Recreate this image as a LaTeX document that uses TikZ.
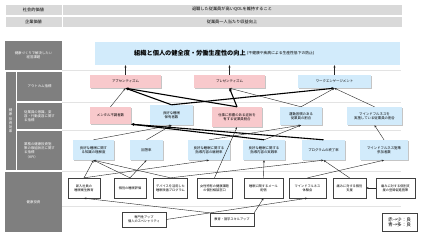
\documentclass[tikz,border=0pt]{standalone}
\usepackage{fontspec}
\setmainfont{Noto Sans CJK JP}
\usetikzlibrary{arrows.meta,shadows}
\definecolor{hdrgray}{HTML}{D9D9D9}
\definecolor{sidegray}{HTML}{7F7F7F}
\definecolor{pinkf}{HTML}{F8C9CC}
\definecolor{bluef}{HTML}{D2EBFB}
\definecolor{sepgray}{HTML}{E3E3E3}
\begin{document}
\begin{tikzpicture}[x=1pt,y=-1pt,
  every node/.style={inner sep=0.5pt,align=center},
  hdr/.style={fill=hdrgray,draw=white,line width=0.6pt,font=\fontsize{4.2}{5}\selectfont},
  side/.style={fill=sidegray,text=white,font=\fontsize{3.4}{4.2}\selectfont},
  shad/.style={drop shadow={shadow xshift=0.9pt,shadow yshift=-0.9pt,fill=black!45}},
  pinkbox/.style={fill=pinkf,shad,font=\fontsize{3.4}{4.2}\selectfont},
  bluebox/.style={fill=bluef,shad,font=\fontsize{3.4}{4.2}\selectfont},
  invbox/.style={fill=white,draw=black!75,line width=0.35pt,shad,font=\fontsize{3.2}{4}\selectfont},
  thin/.style={-{Stealth[length=2.4pt,width=2pt]},line width=0.4pt,black!85},
  thick/.style={-{Stealth[length=3pt,width=2.6pt]},line width=1.1pt,black},
  sep/.style={sepgray,line width=0.6pt}]
\useasboundingbox (0,0) rectangle (431,239);
\fill[white] (0,0) rectangle (431,239);
% header rows
\node[hdr,minimum width=57pt,minimum height=11pt] (h1l) at (33.5,9.5) {社会的価値};
\node[hdr,minimum width=340pt,minimum height=11pt] (h1r) at (232,9.5) {退職した従業員が高いQOLを維持すること};
\node[hdr,minimum width=57pt,minimum height=11.5pt] (h2l) at (33.5,22) {企業価値};
\node[hdr,minimum width=340pt,minimum height=11.5pt] (h2r) at (232,22) {従業員一人当たり収益向上};
% separators
\draw[sep] (62,70) -- (401,70);
\draw[sep] (62,102) -- (401,102);
\draw[sep] (62,130) -- (401,130);
\draw[sep] (62,171) -- (401,171);
\draw[sep] (62,206) -- (401,206);
% left column
\node[side,minimum width=57pt,minimum height=29pt] (l0) at (33.5,55) {健康づくりで解決したい\\経営課題};
\node[side,minimum width=10pt,minimum height=98pt] (lv) at (10.5,121) {健\\康\\投\\資\\効\\果};
\node[side,minimum width=45pt,minimum height=29pt] (la) at (39.5,86.5) {アウトカム指標};
\node[side,minimum width=45pt,minimum height=26pt,align=left] (lb) at (39.5,116) {従業員の意識、変\\容・行動変容に関す\\る指標};
\node[side,minimum width=45pt,minimum height=39pt,align=left] (lc) at (39.5,150.5) {業務の健康投資施\\策の取組状況に関す\\る指標\\\ \ （KPI）};
\node[side,minimum width=57pt,minimum height=60pt] (ld) at (33.5,202) {健康投資};
% main box
\node[fill=bluef,minimum width=305pt,minimum height=23pt] (main) at (247.5,53.5) {};
\node[font=\fontsize{6.2}{7}\selectfont\bfseries] (mt) at (190,53.5) {組織と個人の健全度・労働生産性の向上};
\node[font=\fontsize{3.8}{4.5}\selectfont,anchor=west] (ms) at (mt.east) {(不健康や疾病による生産性低下の防止)};
% outcome row
\node[pinkbox,minimum width=71pt,minimum height=13pt] (o1) at (125.5,81.5) {アブセンティズム};
\node[pinkbox,minimum width=71pt,minimum height=13pt] (o2) at (229.5,81.5) {プレゼンティズム};
\node[bluebox,minimum width=73pt,minimum height=13pt] (o3) at (334.5,81.5) {ワークエンゲージメント};
% middle row
\node[pinkbox,minimum width=41pt,minimum height=17pt] (m1) at (110.5,115.5) {メンタル不調者数};
\node[bluebox,minimum width=43pt,minimum height=20pt] (m2) at (171.5,115) {良好な睡眠\\保有者数};
\node[pinkbox,minimum width=50pt,minimum height=20pt] (m3) at (237,117) {仕事に影響のある症状を\\有する従業員割合};
\node[bluebox,minimum width=42pt,minimum height=18pt] (m4) at (301,116) {運動習慣のある\\従業員の割合};
\node[bluebox,minimum width=55pt,minimum height=18pt] (m5) at (374.5,116) {マインドフルネスを\\実施している従業員の割合};
% KPI row
\node[bluebox,minimum width=41pt,minimum height=20pt] (k1) at (93.5,150) {良好な睡眠に関す\\る知識の理解度};
\node[bluebox,minimum width=33pt,minimum height=20pt] (k2) at (146.5,150) {回答率};
\node[bluebox,minimum width=42pt,minimum height=20pt] (k3) at (209,150) {良好な睡眠に関する\\指導内容の継続率};
\node[bluebox,minimum width=42pt,minimum height=20pt] (k4) at (264,150) {良好な睡眠に関する\\指導内容の実践率};
\node[bluebox,minimum width=43pt,minimum height=20pt] (k5) at (323.5,150) {プログラムの終了率};
\node[bluebox,minimum width=48pt,minimum height=20pt] (k6) at (384,150) {マインドフルネス施策\\参加者数};
% investment row
\node[invbox,minimum width=32pt,minimum height=20pt] (i1) at (84,188) {新入社員の\\睡眠衛生教育};
\node[invbox,minimum width=32pt,minimum height=20pt] (i2) at (130,188) {個別の睡眠評価};
\node[invbox,minimum width=34pt,minimum height=20pt] (i3) at (170.5,188) {デバイスを活用した\\睡眠改善プログラム};
\node[invbox,minimum width=35pt,minimum height=20pt] (i4) at (214.5,188) {女性特有の健康課題\\の個別相談窓口};
\node[invbox,minimum width=39pt,minimum height=20pt] (i5) at (263.5,188) {睡眠に関するメール\\配信};
\node[invbox,minimum width=37pt,minimum height=20pt] (i6) at (307.5,188) {マインドフルネス\\体験会};
\node[invbox,minimum width=33pt,minimum height=20pt] (i7) at (349.5,188) {痛みに対する個別\\支援};
\node[invbox,minimum width=39pt,minimum height=20pt] (i8) at (395.5,188) {痛みに対する個別支\\援の登録促進施策};
% bottom row
\node[invbox,minimum width=44pt,minimum height=15pt] (b1) at (144,219.5) {専門性アップ\\個人のスペシャリティ};
\node[invbox,minimum width=44pt,minimum height=13pt] (b2) at (232,219.5) {教育・語学スキルアップ};
\node[invbox,minimum width=35pt,minimum height=18pt,font=\fontsize{4.6}{5.4}\selectfont,align=left] (lg) at (399.5,222) {赤→少：良\\青→多：良};
% outcome -> main
\draw[thin] (o1.north) -- (o1.north |- main.south);
\draw[thin] (o2.north) -- (o2.north |- main.south);
\draw[thin] (o3.north) -- (o3.north |- main.south);
% middle -> outcome
\draw[thin] (m1.north) -- (o1.south);
\draw[thick] (m2.north) -- (o1.south);
\draw[thick] (m2.north) -- (o3.south);
\draw[thick] (m3.north) -- (o2.south);
\draw[thick] (m3.north) -- (o1.south);
\draw[thin] (m4.north) -- (o2.south);
\draw[thin] (m4.north) -- (o3.south);
\draw[thin] (m5.north) -- (o3.south);
% KPI -> middle
\draw[thin] (k1.north) -- (m2.south);
\draw[thin] (k2.north) -- (m2.south);
\draw[thick] (k5.north) -- (m1.south east);
\draw[thick] (k4.north) -- (m1.south east);
\draw[thin] (k3.north) -- (m4.south);
\draw[thin] (k4.north) -- (m4.south);
\draw[thin] (k6.north) -- (m5.south);
% investment -> KPI
\draw[thin] (i1.north) -- (k1.south);
\draw[thin] (i2.north) -- (k1.south);
\draw[thin] (i3.north) -- (k1.south);
\draw[thin] (i2.north) -- (k2.south);
\draw[thin] (i1.north) -- (k3.south);
\draw[thin] (i3.north) -- (k5.south);
\draw[thin] (i4.north) -- (m3.south);
\draw[thin] (i5.north) -- (k4.south);
\draw[thin] (i6.north) -- (k6.south);
\draw[thin] (i7.north) -- (k5.south);
\draw[thin] (i8.west) -- (i7.east);
% bottom
\draw[thin] (b2.north east) -- (i5.south);
\draw[thin] (b2.north west) -- (i1.south);
\draw[thin] (b1.east) -- (i6.south);
\end{tikzpicture}
\end{document}
